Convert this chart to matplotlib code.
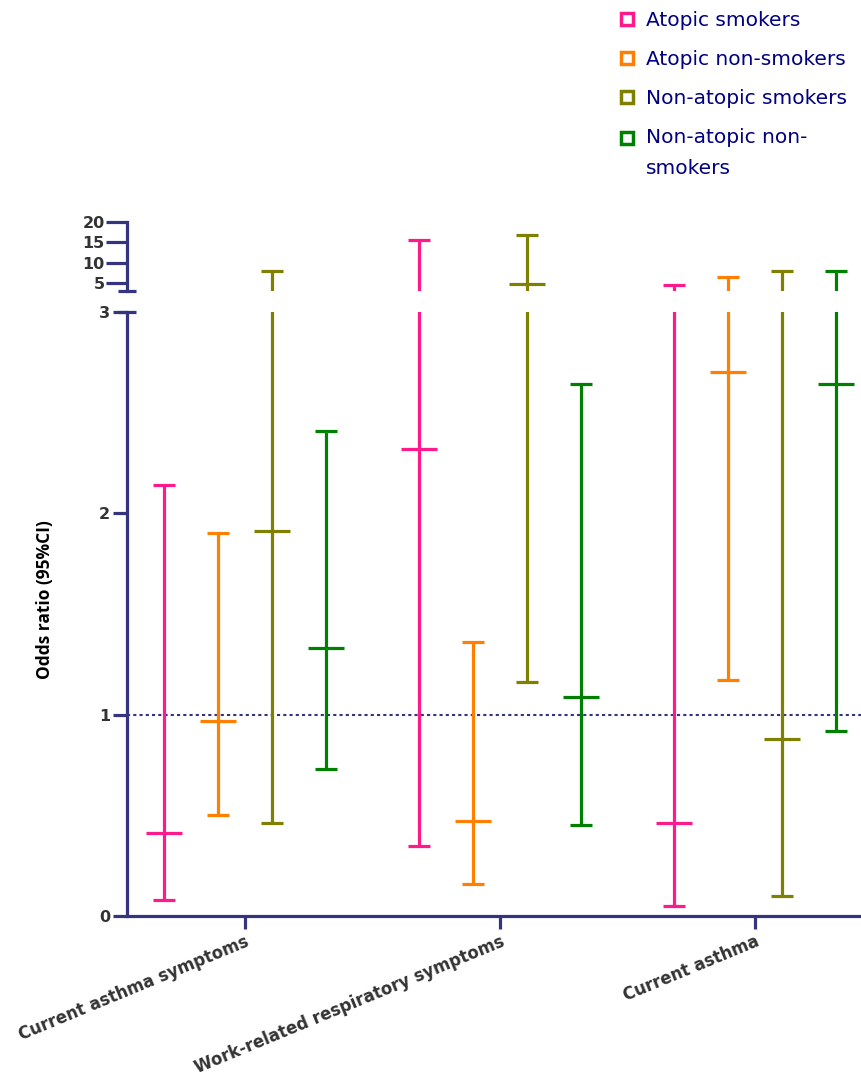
import matplotlib
matplotlib.use("Agg")
import matplotlib.pyplot as plt
from matplotlib.lines import Line2D
from matplotlib.legend_handler import HandlerLine2D
from matplotlib.transforms import Affine2D
import numpy as np

# odds ratios with 95% CI, one list per subgroup, ordered by outcome
outcomes = ["Current asthma symptoms", "Work-related respiratory symptoms", "Current asthma"]
groups = ["Atopic smokers", "Atopic non-smokers", "Non-atopic smokers", "Non-atopic non-\nsmokers"]
colors = ["#ff1a8c", "#ff8000", "#808000", "#008000"]

or_mid = [
    [0.41, 2.32, 0.46],
    [0.97, 0.47, 2.70],
    [1.91, 4.8, 0.88],
    [1.33, 1.09, 2.64],
]
ci_low = [
    [0.08, 0.35, 0.05],
    [0.50, 0.16, 1.17],
    [0.46, 1.16, 0.10],
    [0.73, 0.45, 0.92],
]
ci_high = [
    [2.14, 15.5, 4.5],
    [1.90, 1.36, 6.5],
    [8.0, 16.75, 8.0],
    [2.41, 2.64, 8.0],
]

navy = "#35357f"
tick_col = "#333333"
LW = 2.3

fig = plt.figure(figsize=(8.61, 10.79), dpi=100)
H = 1079.0
W = 861.0
left = 127 / W
ax = fig.add_axes([left, (H - 916) / H, 1 - left, (916 - 312) / H])
ax_up = fig.add_axes([left, (H - 291) / H, 1 - left, (291 - 222) / H])
ax.set_ylim(0, 3)
ax_up.set_ylim(3, 20)

x_centers = np.arange(1, len(outcomes) + 1)
offsets = (np.arange(len(groups)) - 1.5) * 0.212


def in_range(vals, a):
    lo, hi = a.get_ylim()
    v = np.array(vals, dtype=float)
    return np.where((v >= lo) & (v <= hi), v, np.nan)


# each panel only shows the part of the interval that falls inside its own range
for a in (ax, ax_up):
    for g in range(len(groups)):
        xs = x_centers + offsets[g]
        a.vlines(xs, ci_low[g], ci_high[g], color=colors[g], lw=LW)
        a.plot(xs, in_range(ci_low[g], a), ls="none", marker="_", markersize=16,
               markeredgewidth=LW, color=colors[g])
        a.plot(xs, in_range(ci_high[g], a), ls="none", marker="_", markersize=16,
               markeredgewidth=LW, color=colors[g])
        a.plot(xs, in_range(or_mid[g], a), ls="none", marker="_", markersize=26,
               markeredgewidth=LW, color=colors[g])
    a.set_xlim(0.537, 3.416)
    a.patch.set_alpha(0)

ax.axhline(1, color=navy, lw=1.5, ls=(0, (1.5, 1.5)), zorder=0)

for a in (ax, ax_up):
    a.spines["top"].set_visible(False)
    a.spines["right"].set_visible(False)
    a.spines["left"].set_color(navy)
    a.spines["left"].set_linewidth(LW)
ax_up.spines["bottom"].set_visible(False)
ax.spines["bottom"].set_color(navy)
ax.spines["bottom"].set_linewidth(LW)

ax.set_yticks([0, 1, 2, 3])
ax.tick_params(axis="y", length=10, width=LW, color=navy, labelcolor=tick_col,
               labelsize=11.5, pad=2)
ax_up.set_yticks([5, 10, 15, 20])
ax_up.tick_params(axis="y", length=15, width=LW, color=navy, labelcolor=tick_col,
                  labelsize=11.5, pad=1)
ax_up.set_xticks([])
for lab in ax.get_yticklabels() + ax_up.get_yticklabels():
    lab.set_fontweight("bold")

ax.set_xticks(x_centers)
ax.set_xticklabels(outcomes, rotation=22.5, ha="right", va="top",
                   rotation_mode="anchor", fontsize=11.9, fontweight="bold", color=tick_col)
ax.tick_params(axis="x", length=9, width=LW, color=navy, pad=3)

# break caps on the y axis
cap_kw = dict(color=navy, lw=LW, clip_on=False, solid_capstyle="butt")
ax.plot([-0.012, 0.012], [1, 1], transform=ax.transAxes, **cap_kw)
ax_up.plot([-0.012, 0.012], [0, 0], transform=ax_up.transAxes, **cap_kw)

fig.text(45 / W, 1 - 600 / H, "Odds ratio (95%CI)", rotation=90, ha="center",
         va="center", fontsize=12.5, fontweight="bold", family="Open Sans", color="black")


class FirstLineHandler(HandlerLine2D):
    # keeps the marker level with the first line of a wrapped label
    def create_artists(self, legend, orig_handle, xdescent, ydescent, width,
                       height, fontsize, trans):
        arts = super().create_artists(legend, orig_handle, xdescent, ydescent,
                                      width, height, fontsize, trans)
        for a in arts:
            a.set_transform(trans + Affine2D().translate(0, 16))
        return arts


handles = [Line2D([], [], ls="none", marker="s", markersize=8, markerfacecolor="white",
                  markeredgecolor=c, markeredgewidth=2.5) for c in colors]
leg = fig.legend(handles, groups, loc="upper left", bbox_to_anchor=(612 / W, 1 - 3 / H),
                 frameon=False, fontsize=14.5, labelcolor="#000080", handlelength=0.7,
                 handletextpad=0.6, labelspacing=1.0, borderaxespad=0,
                 handler_map={handles[3]: FirstLineHandler()})
for t in leg.get_texts():
    t.set_linespacing(1.75)

fig.savefig("out.png", dpi=100)
